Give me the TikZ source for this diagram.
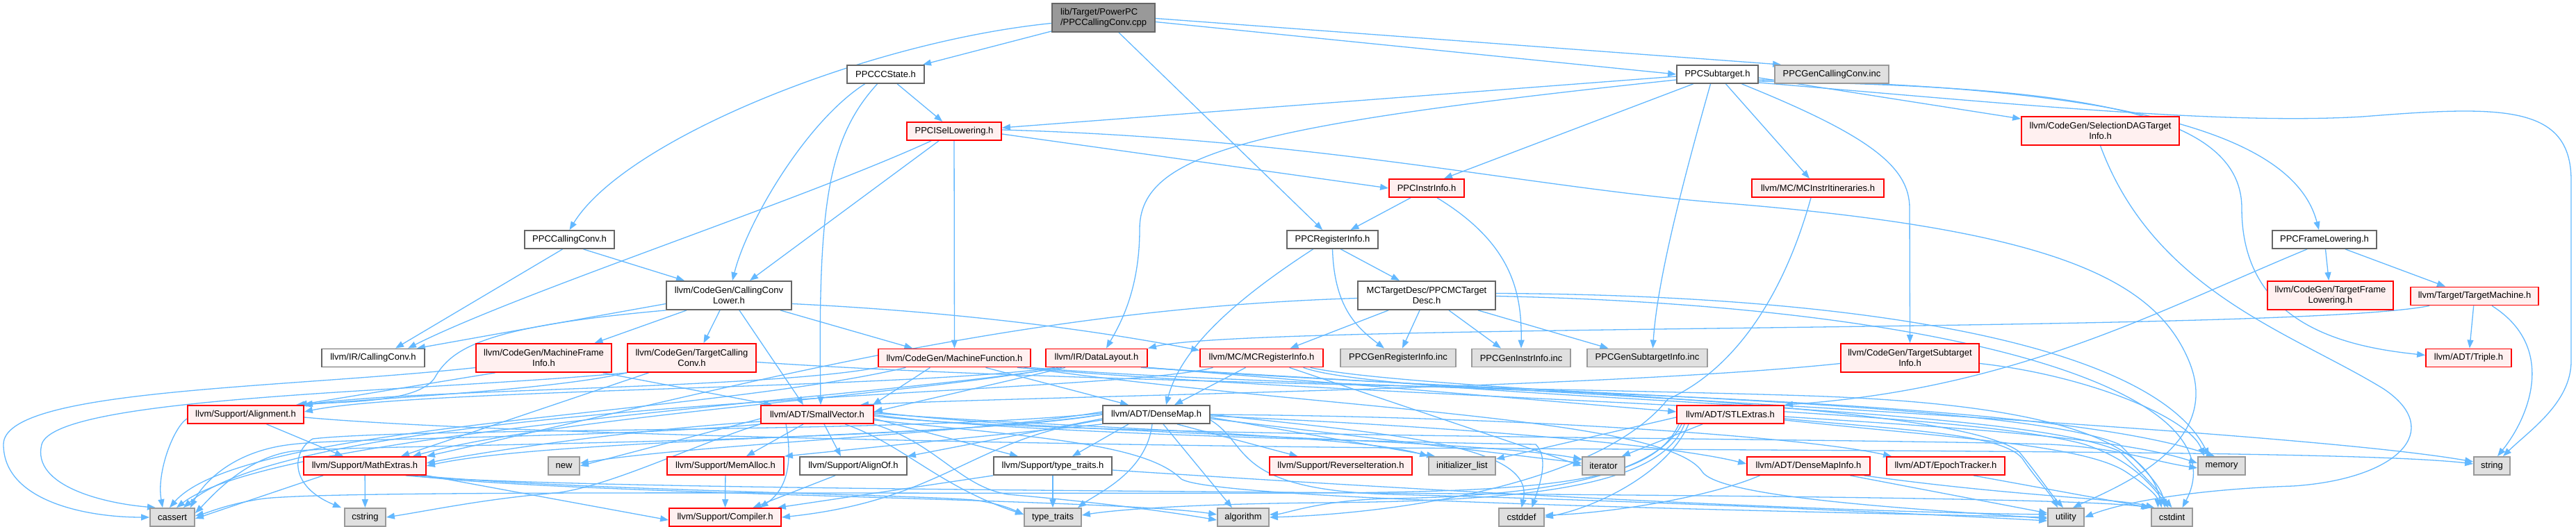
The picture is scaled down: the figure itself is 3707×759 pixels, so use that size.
\documentclass[tikz,border=0pt]{standalone}
\usepackage{fontspec}
\setmainfont{Liberation Sans}
\usetikzlibrary{arrows.meta}
\pgfdeclarelayer{edgelayer}
\pgfsetlayers{edgelayer,main}
\definecolor{ecol}{RGB}{99,184,255}
\definecolor{bdark}{RGB}{102,102,102}
\definecolor{bmid}{RGB}{153,153,153}
\definecolor{gfill}{RGB}{224,224,224}
\definecolor{rfill}{RGB}{255,240,240}
\definecolor{rootfill}{RGB}{153,153,153}
\tikzset{
  box/.style={draw, line width=1.8pt, inner sep=0pt, align=center, font=\fontsize{13}{15}\selectfont, text=black},
  wbox/.style={box, draw=bdark, fill=white},
  rbox/.style={box, draw=red, fill=rfill},
  gbox/.style={box, draw=bmid, fill=gfill},
  rootbox/.style={box, draw=bdark, fill=rootfill, align=left},
  e/.style={draw=ecol, line width=1.3pt, -{Triangle[length=12pt,width=9pt]}},
}
\newcommand\mynode[7]{\node[#2, minimum width=#5pt, minimum height=#6pt] (#1) at (#3,#4) {#7};}
\begin{document}
\begin{tikzpicture}[x=1pt,y=-1pt]
\useasboundingbox (0,0) rectangle (3707,759);
\mynode{root}{rootbox}{1588}{25.5}{148}{41}{lib/Target/PowerPC\\/PPCCallingConv.cpp}
\mynode{ccstate}{wbox}{1274.5}{107}{111}{26}{PPCCCState.h}
\mynode{subtarget}{wbox}{2471.5}{107}{117}{26}{PPCSubtarget.h}
\mynode{gencc}{gbox}{2636}{107}{164}{26}{PPCGenCallingConv.inc}
\mynode{isel}{rbox}{1373}{189}{136}{26}{PPCISelLowering.h}
\mynode{seldag}{rbox}{3022.5}{188.5}{227}{41}{llvm/CodeGen/SelectionDAGTarget\\Info.h}
\mynode{instrinfo}{rbox}{2053}{271}{108}{26}{PPCInstrInfo.h}
\mynode{itin}{rbox}{2616}{271}{190}{26}{llvm/MC/MCInstrItineraries.h}
\mynode{callconvh}{wbox}{819.5}{345}{129}{26}{PPCCallingConv.h}
\mynode{reginfo}{wbox}{1917.5}{345}{131}{26}{PPCRegisterInfo.h}
\mynode{framelow}{wbox}{3345}{345}{150}{26}{PPCFrameLowering.h}
\mynode{ccl}{wbox}{1049}{425.5}{180}{41}{llvm/CodeGen/CallingConv\\Lower.h}
\mynode{mcdesc}{wbox}{2053}{425.5}{198}{41}{MCTargetDesc/PPCMCTarget\\Desc.h}
\mynode{tfl}{rbox}{3353.5}{425.5}{181}{41}{llvm/CodeGen/TargetFrame\\Lowering.h}
\mynode{tm}{rbox}{3561}{426.5}{184}{26}{llvm/Target/TargetMachine.h}
\mynode{ircc}{wbox}{537}{515.5}{148}{26}{llvm/IR/CallingConv.h}
\mynode{mfi}{rbox}{782.5}{515.5}{195}{41}{llvm/CodeGen/MachineFrame\\Info.h}
\mynode{tcc}{rbox}{995.5}{515.5}{185}{41}{llvm/CodeGen/TargetCalling\\Conv.h}
\mynode{mf}{rbox}{1373.5}{515.5}{219}{26}{llvm/CodeGen/MachineFunction.h}
\mynode{dl}{rbox}{1578}{515.5}{146}{26}{llvm/IR/DataLayout.h}
\mynode{mcri}{rbox}{1815.5}{515.5}{177}{26}{llvm/MC/MCRegisterInfo.h}
\mynode{genreg}{gbox}{2012}{515.5}{166}{26}{PPCGenRegisterInfo.inc}
\mynode{geninstr}{gbox}{2189}{515.5}{142}{26}{PPCGenInstrInfo.inc}
\mynode{gensub}{gbox}{2370.5}{515.5}{173}{26}{PPCGenSubtargetInfo.inc}
\mynode{tsi}{rbox}{2748.5}{515.5}{199}{41}{llvm/CodeGen/TargetSubtarget\\Info.h}
\mynode{triple}{rbox}{3552.5}{515.5}{123}{26}{llvm/ADT/Triple.h}
\mynode{align}{rbox}{353.5}{597}{167}{26}{llvm/Support/Alignment.h}
\mynode{sv}{rbox}{1176}{597}{162}{26}{llvm/ADT/SmallVector.h}
\mynode{dm}{wbox}{1664}{597}{154}{26}{llvm/ADT/DenseMap.h}
\mynode{stl}{rbox}{2490}{597}{154}{26}{llvm/ADT/STLExtras.h}
\mynode{new}{gbox}{811.5}{671}{45}{26}{new}
\mynode{math}{rbox}{525}{671}{176}{26}{llvm/Support/MathExtras.h}
\mynode{memalloc}{rbox}{1044}{671}{168}{26}{llvm/Support/MemAlloc.h}
\mynode{alignof}{wbox}{1228}{671}{154}{26}{llvm/Support/AlignOf.h}
\mynode{tt}{wbox}{1515}{671}{170}{26}{llvm/Support/type\_traits.h}
\mynode{revit}{rbox}{1929.5}{671}{205}{26}{llvm/Support/ReverseIteration.h}
\mynode{initl}{gbox}{2104}{671}{96}{26}{initializer\_list}
\mynode{iter}{gbox}{2307.5}{671}{61}{26}{iterator}
\mynode{dmi}{rbox}{2602.5}{671}{177}{26}{llvm/ADT/DenseMapInfo.h}
\mynode{epoch}{rbox}{2800}{671}{170}{26}{llvm/ADT/EpochTracker.h}
\mynode{memory}{gbox}{3197}{671}{68}{26}{memory}
\mynode{string}{gbox}{3586}{671}{52}{26}{string}
\mynode{cassert}{gbox}{248}{745}{64}{26}{cassert}
\mynode{cstring}{gbox}{525.5}{745}{59}{26}{cstring}
\mynode{compiler}{rbox}{1043.5}{745}{161}{26}{llvm/Support/Compiler.h}
\mynode{typetraits}{gbox}{1515}{745}{82}{26}{type\_traits}
\mynode{algorithm}{gbox}{1789}{745}{74}{26}{algorithm}
\mynode{cstddef}{gbox}{2189.5}{745}{65}{26}{cstddef}
\mynode{utility}{gbox}{2973}{745}{52}{26}{utility}
\mynode{cstdint}{gbox}{3125.5}{745}{59}{26}{cstdint}

\begin{pgfonlayer}{edgelayer}
% root
\draw[e] (root) -- (ccstate);
\draw[e] ([yshift=-6pt]root.east) -- (subtarget.west);
\draw[e] ([yshift=-1pt]root.east) -- ([xshift=10pt]gencc.north west);
\draw[e] (root) -- (reginfo);
\draw[e] ([yshift=-8pt]root.west) .. controls (1250,60) and (900,200) .. (callconvh.north);
% ccstate
\draw[e] (ccstate) -- (isel);
\draw[e] ([xshift=-30pt]ccstate.south) .. controls (1160,175) and (1075,320) .. ([xshift=5pt]ccl.north);
\draw[e] ([xshift=-12pt]ccstate.south) .. controls (1190,200) and (1177,300) .. ([xshift=5pt]sv.north);
% subtarget
\draw[e] ([yshift=-3pt]subtarget.west) -- ([yshift=5pt]isel.east);
\draw[e] ([yshift=-8pt]subtarget.west) .. controls (1800,180) and (1640,220) .. (1640,330) .. controls (1640,420) and (1610,470) .. ([xshift=14pt]dl.north);
\draw[e] ([xshift=-35pt]subtarget.south) -- ([xshift=25pt]instrinfo.north);
\draw[e] ([xshift=-10pt]subtarget.south) .. controls (2425,250) and (2385,400) .. ([xshift=8pt]gensub.north);
\draw[e] ([xshift=12pt]subtarget.south) -- ([xshift=-12pt]itin.north);
\draw[e] ([xshift=35pt]subtarget.south) .. controls (2690,195) and (2748,240) .. (2748,300) -- (tsi.north);
\draw[e] ([yshift=-5pt]subtarget.east) -- ([yshift=-4pt]seldag.north west);
\draw[e] ([yshift=-8pt]subtarget.east) .. controls (3050,125) and (3300,190) .. ([xshift=-8pt]framelow.north);
\draw[e] ([yshift=-10pt]subtarget.east) .. controls (2950,125) and (3226,150) .. (3226,300) .. controls (3226,470) and (3380,500) .. ([yshift=4pt]triple.west);
\draw[e] ([yshift=-12pt]subtarget.east) .. controls (2900,150) and (3200,180) .. (3400,168) .. controls (3600,152) and (3700,150) .. (3700,260) -- (3700,520) .. controls (3700,580) and (3640,620) .. ([xshift=16pt]string.north);
% isel
\draw[e] ([yshift=-4pt]isel.east) -- (instrinfo.west);
\draw[e] ([yshift=2pt]isel.east) .. controls (1900,200) and (2200,270) .. (2475,292) .. controls (2950,330) and (3100,400) .. (3150,520) .. controls (3200,640) and (3050,700) .. ([xshift=10pt]utility.north);
\draw[e] ([xshift=-33pt]isel.south) .. controls (1150,290) and (750,420) .. ([xshift=50pt]ircc.north);
\draw[e] ([xshift=-22pt]isel.south) -- ([xshift=30pt]ccl.north);
\draw[e] (isel) -- (mf);
% instrinfo
\draw[e] ([xshift=-23pt]instrinfo.south) -- ([xshift=26pt]reginfo.north);
\draw[e] ([xshift=15pt]instrinfo.south) .. controls (2175,350) and (2190,420) .. (geninstr.north);
% itin
\draw[e] ([xshift=-10pt]itin.south) .. controls (2560,450) and (2480,540) .. (2400,575) .. controls (2300,700) and (2000,740) .. (algorithm.east);
% callconvh
\draw[e] ([xshift=-10pt]callconvh.south) -- ([xshift=32pt]ircc.north);
\draw[e] ([xshift=20pt]callconvh.south) -- ([xshift=-64pt]ccl.north);
% reginfo
\draw[e] ([xshift=12pt]reginfo.south) -- ([xshift=-39pt]mcdesc.north);
\draw[e] (reginfo.south) .. controls (1920,440) and (1950,470) .. ([xshift=-20pt]genreg.north);
\draw[e] ([xshift=-28pt]reginfo.south) .. controls (1780,430) and (1700,500) .. ([xshift=14pt]dm.north);
% framelow
\draw[e] (framelow) -- (tfl);
\draw[e] ([xshift=30pt]framelow.south) -- ([xshift=-42pt]tm.north);
\draw[e] ([xshift=-25pt]framelow.south) .. controls (3100,450) and (2900,560) .. (stl.north east);
% mcdesc
\draw[e] ([xshift=-55pt]mcdesc.south) -- ([xshift=41pt]mcri.north);
\draw[e] ([xshift=-10pt]mcdesc.south) -- ([xshift=6pt]genreg.north);
\draw[e] ([xshift=32pt]mcdesc.south) -- ([xshift=-29pt]geninstr.north);
\draw[e] ([xshift=74pt]mcdesc.south) -- ([xshift=-56pt]gensub.north);
\draw[e] ([yshift=-4pt]mcdesc.west) .. controls (1450,445) and (1050,560) .. (math.north east);
\draw[e] ([yshift=3pt]mcdesc.east) .. controls (2700,425) and (3100,500) .. ([xshift=-18pt]memory.north);
\draw[e] ([yshift=-1pt]mcdesc.east) .. controls (2800,440) and (3230,560) .. ([xshift=15pt]cstdint.north);
% tm
\draw[e] (tm) -- (triple);
\draw[e] ([xshift=25pt]tm.south) .. controls (3680,500) and (3640,600) .. ([xshift=8pt]string.north);
\draw[e] ([xshift=-65pt]tm.south) .. controls (3300,480) and (1800,465) .. (dl.north east);
% ccl
\draw[e] ([yshift=-12pt]ccl.west) -- ([xshift=-12pt]ircc.north east);
\draw[e] (ccl.south west) .. controls (700,470) and (650,500) .. (625,545) .. controls (600,580) and (500,578) .. ([xshift=-12pt]align.north east);
\draw[e] ([xshift=-61pt]ccl.south) -- ([xshift=73pt]mfi.north);
\draw[e] ([xshift=-13pt]ccl.south) -- ([xshift=17pt]tcc.north);
\draw[e] ([xshift=15pt]ccl.south) -- ([xshift=-20pt]sv.north);
\draw[e] ([yshift=-12pt]ccl.east) .. controls (1400,450) and (1600,480) .. ([yshift=-3pt]mcri.north west);
\draw[e] ([xshift=74pt]ccl.south) -- ([xshift=-60pt]mf.north);
% mfi
\draw[e] ([yshift=-14pt]mfi.west) .. controls (400,560) and (5,560) .. (5,640) .. controls (5,720) and (120,745) .. (cassert.west);
\draw[e] ([xshift=-70pt]mfi.south) -- ([xshift=-8pt]align.north east);
\draw[e] ([xshift=85pt]mfi.south) -- ([xshift=-65pt]sv.north);
% tcc
\draw[e] (tcc.south west) .. controls (800,560) and (600,570) .. ([xshift=-2pt]align.north east);
\draw[e] ([xshift=-62pt]tcc.south) -- ([xshift=52pt]math.north);
\draw[e] (tcc.south west) .. controls (600,565) and (80,570) .. (60,640) .. controls (45,700) and (150,725) .. ([xshift=-24pt]cassert.north);
\draw[e] ([yshift=-6pt]tcc.east) .. controls (1500,550) and (2300,560) .. (2600,570) .. controls (2900,580) and (3090,620) .. ([xshift=-15pt]cstdint.north);
% mf
\draw[e] (mf.south west) .. controls (1100,560) and (600,560) .. (align.north east);
\draw[e] ([xshift=-35pt]mf.south) -- ([xshift=-2pt]sv.north east);
\draw[e] ([xshift=45pt]mf.south) -- ([xshift=-40pt]dm.north);
\draw[e] ([xshift=-70pt]mf.south) .. controls (1000,600) and (350,610) .. ([xshift=-4pt]cassert.north);
\draw[e] (mf.south east) .. controls (1900,565) and (2900,560) .. ([xshift=-10pt]memory.north);
\draw[e] ([xshift=-10pt]mf.south east) .. controls (1900,590) and (2400,600) .. (2450,680) .. controls (2480,720) and (2800,735) .. ([yshift=-2pt]utility.west);
\draw[e] ([xshift=-20pt]mf.south east) .. controls (2000,575) and (2800,585) .. (3000,640) .. controls (3060,660) and (3090,690) .. ([xshift=-5pt]cstdint.north);
% dl
\draw[e] ([xshift=-45pt]dl.south) -- ([yshift=4pt]sv.east);
\draw[e] ([xshift=-60pt]dl.south) .. controls (1300,560) and (600,560) .. ([yshift=4pt]align.east);
\draw[e] ([xshift=-55pt]dl.south) .. controls (1300,570) and (800,600) .. ([xshift=-20pt]math.north east);
\draw[e] ([xshift=-50pt]dl.south) .. controls (1250,575) and (400,620) .. ([xshift=6pt]cassert.north);
\draw[e] (dl.south east) .. controls (1900,550) and (2200,575) .. ([yshift=4pt]stl.west);
\draw[e] (dl.south east) .. controls (2100,565) and (2900,575) .. (3050,640) .. controls (3090,680) and (3110,700) .. ([xshift=-10pt]cstdint.north);
\draw[e] ([xshift=-10pt]dl.south east) .. controls (2300,570) and (3300,620) .. ([yshift=6pt]string.west);
% mcri
\draw[e] ([xshift=-23pt]mcri.south) -- ([xshift=26pt]dm.north);
\draw[e] ([xshift=40pt]mcri.south) -- (iter.west);
\draw[e] ([xshift=-70pt]mcri.south) .. controls (1600,570) and (450,570) .. ([xshift=16pt]cassert.north);
\draw[e] ([xshift=60pt]mcri.south) .. controls (2000,575) and (2900,580) .. (3050,650) .. controls (3080,680) and (3100,700) .. (cstdint.north);
\draw[e] ([xshift=70pt]mcri.south) .. controls (2050,565) and (2800,575) .. (2905,650) .. controls (2930,680) and (2950,710) .. ([xshift=-4pt]utility.north);
% tsi
\draw[e] ([yshift=-8pt]tsi.west) .. controls (2300,560) and (1500,570) .. ([xshift=-20pt]sv.north east);
\draw[e] ([yshift=-8pt]tsi.east) .. controls (3000,540) and (3150,600) .. ([xshift=-25pt]memory.north);
% seldag
\draw[e] (seldag.south) .. controls (3100,420) and (3300,480) .. (3430,560) .. controls (3520,620) and (3450,690) .. (3300,700) .. controls (3150,705) and (3050,725) .. (utility.east);
% align
\draw[e] ([xshift=30pt]align.south) -- ([xshift=-31pt]math.north);
\draw[e] ([yshift=-6pt]align.west) .. controls (250,615) and (225,680) .. ([xshift=-14pt]cassert.north);
\draw[e] ([yshift=-4pt]align.east) .. controls (700,625) and (1500,640) .. (2000,645) .. controls (2800,650) and (3400,650) .. ([yshift=3pt]string.west);
% sv
\draw[e] ([yshift=-6pt]sv.west) -- (new.east);
\draw[e] ([yshift=-10pt]sv.west) .. controls (900,620) and (700,650) .. ([yshift=4pt]math.east);
\draw[e] ([xshift=-20pt]sv.south) -- ([xshift=30pt]memalloc.north);
\draw[e] ([xshift=10pt]sv.south) -- ([xshift=-18pt]alignof.north);
\draw[e] ([yshift=-6pt]sv.east) -- ([xshift=-50pt]tt.north);
\draw[e] ([xshift=-45pt]sv.south) .. controls (1138,650) and (1140,700) .. ([xshift=50pt]compiler.north);
\draw[e] (sv.south west) .. controls (900,630) and (500,630) .. (420,640) .. controls (330,650) and (290,700) .. ([xshift=26pt]cassert.north);
\draw[e] (sv.south west) .. controls (1000,640) and (880,700) .. (800,710) .. controls (700,718) and (620,735) .. (cstring.east);
\draw[e] ([xshift=40pt]sv.south) .. controls (1300,640) and (1350,700) .. ([yshift=4pt]typetraits.west);
\draw[e] (sv.south east) .. controls (1350,640) and (1380,700) .. (1450,712) .. controls (1600,725) and (1700,740) .. ([yshift=-4pt]algorithm.west);
\draw[e] (sv.east) .. controls (1400,620) and (1900,635) .. (2210,640) .. controls (2230,660) and (2215,700) .. ([xshift=15pt]cstddef.north);
\draw[e] ([yshift=2pt]sv.east) .. controls (1500,615) and (1950,625) .. (initl.north west);
\draw[e] ([yshift=4pt]sv.east) .. controls (1500,625) and (2100,630) .. ([yshift=-4pt]iter.north west);
\draw[e] ([yshift=-2pt]sv.east) .. controls (1500,630) and (2600,630) .. (2950,640) .. controls (3050,645) and (3100,665) .. ([yshift=-3pt]memory.west);
\draw[e] ([yshift=-8pt]sv.east) .. controls (1500,630) and (1650,640) .. (1700,690) .. controls (1750,720) and (2500,735) .. (utility.west);
% dm
\draw[e] ([yshift=-6pt]dm.west) -- (alignof.north east);
\draw[e] ([xshift=-40pt]dm.south) -- ([xshift=28pt]tt.north);
\draw[e] ([xshift=30pt]dm.south) -- ([xshift=-62pt]revit.north);
\draw[e] ([yshift=-4pt]dm.east) -- ([xshift=10pt]initl.north west);
\draw[e] ([yshift=-6pt]dm.east) -- ([yshift=4pt]iter.west);
\draw[e] ([yshift=-2pt]dm.east) .. controls (2100,615) and (2400,640) .. ([yshift=3pt]dmi.west);
\draw[e] (dm.east) .. controls (2200,600) and (2600,630) .. ([xshift=8pt]epoch.north west);
\draw[e] ([xshift=-6pt]dm.south) .. controls (1650,680) and (1580,710) .. ([xshift=36pt]typetraits.north);
\draw[e] ([xshift=10pt]dm.south) -- ([xshift=-16pt]algorithm.north);
\draw[e] (dm.east) .. controls (2000,625) and (2210,640) .. (cstddef.north);
\draw[e] ([yshift=4pt]dm.west) .. controls (1400,625) and (1000,640) .. ([yshift=4pt]new.east);
\draw[e] (dm.west) .. controls (1400,630) and (800,630) .. (math.east);
\draw[e] (dm.south west) -- (memalloc.north east);
\draw[e] ([yshift=-8pt]dm.west) .. controls (1400,630) and (1360,720) .. (compiler.east);
\draw[e] (dm.west) .. controls (1300,640) and (500,640) .. (420,650) .. controls (350,660) and (300,720) .. ([yshift=6pt]cassert.east);
\draw[e] ([yshift=2pt]dm.west) .. controls (1300,625) and (600,615) .. (450,632) .. controls (420,650) and (415,700) .. ([xshift=-4pt]cstring.north west);
\draw[e] ([yshift=-8pt]dm.east) .. controls (1800,640) and (1770,705) .. (2000,712) .. controls (2400,722) and (2800,742) .. ([yshift=-5pt]utility.west);
% stl
\draw[e] ([xshift=-40pt]stl.south) -- ([xshift=-5pt]iter.north east);
\draw[e] ([yshift=-4pt]stl.west) -- ([yshift=-4pt]initl.north east);
\draw[e] ([yshift=-3pt]stl.east) .. controls (2800,615) and (3050,630) .. ([yshift=4pt]memory.west);
\draw[e] ([yshift=-6pt]stl.east) .. controls (2750,620) and (2880,625) .. (2910,660) .. controls (2930,690) and (2950,710) .. ([xshift=-12pt]utility.north);
\draw[e] ([yshift=-8pt]stl.east) .. controls (2800,630) and (3000,640) .. (3060,680) .. controls (3090,700) and (3105,715) .. ([xshift=-20pt]cstdint.north);
\draw[e] ([xshift=-60pt]stl.south) .. controls (2400,680) and (2300,730) .. (cstddef.east);
\draw[e] ([xshift=-70pt]stl.south) .. controls (2380,690) and (2200,715) .. (2000,718) .. controls (1900,720) and (1850,740) .. ([yshift=4pt]algorithm.east);
\draw[e] ([xshift=-66pt]stl.south) .. controls (2390,700) and (2200,722) .. (1900,724) .. controls (1700,726) and (1600,735) .. ([yshift=3pt]typetraits.east);
\draw[e] ([xshift=-74pt]stl.south) .. controls (2380,690) and (2250,708) .. (1900,710) .. controls (1300,712) and (500,705) .. (380,718) .. controls (330,725) and (300,738) .. ([yshift=2pt]cassert.east);
% math
\draw[e] ([xshift=-60pt]math.south) -- ([yshift=-2pt]cassert.east);
\draw[e] (math) -- (cstring);
\draw[e] (math.south east) -- ([yshift=-4pt]compiler.west);
\draw[e] ([xshift=-10pt]math.south east) .. controls (800,705) and (1300,712) .. (1400,720) .. controls (1440,725) and (1460,735) .. ([yshift=4pt]typetraits.west);
\draw[e] ([xshift=-20pt]math.south east) .. controls (800,712) and (1600,718) .. ([yshift=4pt]algorithm.west);
\draw[e] ([xshift=-30pt]math.south east) .. controls (900,715) and (2900,705) .. (cstdint.north west);
% tt
\draw[e] (tt) -- (typetraits);
\draw[e] (tt.south west) -- ([xshift=-6pt]compiler.north east);
\draw[e] ([yshift=-6pt]tt.east) .. controls (1800,690) and (2500,735) .. ([yshift=4pt]utility.west);
% alignof, memalloc
\draw[e] ([xshift=-26pt]alignof.south) -- ([xshift=40pt]compiler.north);
\draw[e] (memalloc) -- (compiler);
% dmi
\draw[e] ([xshift=-70pt]dmi.south) .. controls (2450,720) and (2300,740) .. ([yshift=3pt]cstddef.east);
\draw[e] ([xshift=60pt]dmi.south) -- ([yshift=6pt]utility.west);
\draw[e] ([xshift=80pt]dmi.south) .. controls (2900,715) and (3050,718) .. ([xshift=5pt]cstdint.north west);
% epoch
\draw[e] ([xshift=40pt]epoch.south) -- ([xshift=-2pt]cstdint.north west);
\end{pgfonlayer}
\end{tikzpicture}
\end{document}
